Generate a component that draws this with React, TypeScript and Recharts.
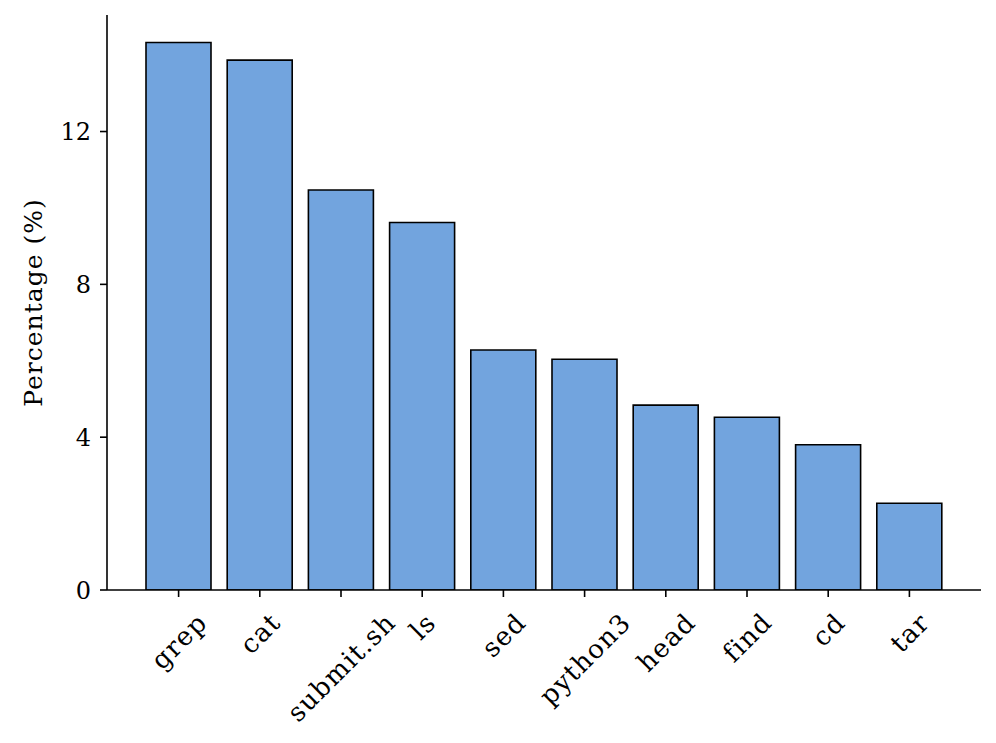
import React from "react";
import { BarChart, Bar, XAxis, YAxis } from "recharts";

const categories = ["grep", "cat", "submit.sh", "ls", "sed", "python3", "head", "find", "cd", "tar"];
const percentages = [14.33, 13.87, 10.47, 9.62, 6.28, 6.04, 4.84, 4.52, 3.8, 2.27];
const yTicks = [0, 4, 8, 12];
const yLabel = "Percentage (%)";

const data = categories.map((c, i) => ({ name: c, value: percentages[i] }));

const FONT = '"DejaVu Serif", serif';
const FS = 25;
const LS = 1.0;
const XFS = 26;
const XLS = 1.3;

let ctx: CanvasRenderingContext2D | null = null;
function measure(t: string): number {
  if (!ctx) {
    const c = document.createElement("canvas");
    ctx = c.getContext("2d");
  }
  if (!ctx) return t.length * XFS * 0.58;
  ctx.font = `${XFS}px ${FONT}`;
  return ctx.measureText(t).width + XLS * t.length;
}

const XTick = (props: any) => {
  const { x, y, payload } = props;
  const label = String(payload.value);
  const w = measure(label);
  const h = XFS * 1.1;
  const H = (w + h) * Math.SQRT1_2;
  const cy = y + H / 2;
  return (
    <text
      x={x + XLS / 2}
      y={cy}
      transform={`rotate(-45, ${x}, ${cy})`}
      textAnchor="middle"
      dominantBaseline="central"
      fontSize={XFS}
      fontFamily={FONT}
      letterSpacing={XLS}
      fill="#000"
    >
      {label}
    </text>
  );
};

const YLabel = (props: any) => {
  const vb = props.viewBox || { y: 15, height: 575 };
  const cy = vb.y + vb.height / 2;
  return (
    <text
      x={33}
      y={cy}
      transform={`rotate(-90, 33, ${cy})`}
      textAnchor="middle"
      dominantBaseline="central"
      fontSize={FS}
      fontFamily={FONT}
      letterSpacing={LS}
      fill="#000"
    >
      {yLabel}
    </text>
  );
};

export default function App() {
  return (
    <div style={{ position: "absolute", left: 0, top: 0, width: 996, height: 743, background: "#fff" }}>
      <BarChart
        width={996}
        height={743}
        data={data}
        margin={{ top: 15, right: 15, left: 0, bottom: 0 }}
        style={{ fontFamily: FONT }}
      >
        <XAxis
          dataKey="name"
          height={153}
          padding={{ left: 31, right: 31 }}
          interval={0}
          tickSize={7}
          tickMargin={11}
          tick={<XTick />}
          axisLine={{ stroke: "#000", strokeWidth: 1.6 }}
          tickLine={{ stroke: "#000", strokeWidth: 1.6 }}
        />
        <YAxis
          width={107}
          domain={[0, 15.05]}
          ticks={yTicks}
          interval={0}
          allowDataOverflow
          tickSize={7}
          tickMargin={9}
          tick={{ fontSize: 24, fill: "#000", fontFamily: FONT }}
          axisLine={{ stroke: "#000", strokeWidth: 1.6 }}
          tickLine={{ stroke: "#000", strokeWidth: 1.6 }}
          label={<YLabel />}
        />
        <Bar
          dataKey="value"
          barSize={65}
          fill="#72A4DE"
          stroke="#000"
          strokeWidth={1.6}
          isAnimationActive={false}
        />
      </BarChart>
    </div>
  );
}
